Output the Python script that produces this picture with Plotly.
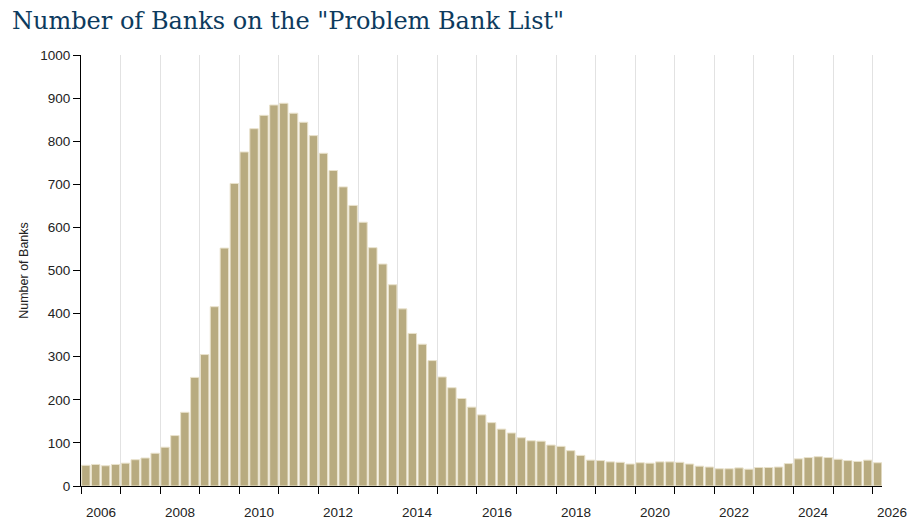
import pandas as pd
import plotly.graph_objects as go

# quarterly counts, 2006 Q1 .. 2026 Q1
quarters = pd.date_range("2006-01-01", "2026-01-01", freq="QS").strftime("%Y-%m-%d").tolist()
problem_banks = [
    48, 50, 47, 50,        # 2006
    53, 61, 65, 76,        # 2007
    90, 117, 171, 252,     # 2008
    305, 416, 552, 702,    # 2009
    775, 829, 860, 884,    # 2010
    888, 865, 844, 813,    # 2011
    772, 732, 694, 651,    # 2012
    612, 553, 515, 467,    # 2013
    411, 354, 329, 291,    # 2014
    253, 228, 203, 183,    # 2015
    165, 147, 132, 123,    # 2016
    112, 105, 104, 95,     # 2017
    92, 82, 71, 60,        # 2018
    59, 56, 55, 51,        # 2019
    54, 53, 56, 56,        # 2020
    55, 51, 46, 44,        # 2021
    40, 40, 42, 39,        # 2022
    43, 43, 44, 52,        # 2023
    63, 66, 68, 66,        # 2024
    62, 59, 57, 60,        # 2025
    54,                    # 2026
]

year_starts = [f"{y}-01-01" for y in range(2006, 2027)]
label_years = list(range(2006, 2027, 2))
label_text = [str(y) for y in label_years]

AXIS_FONT = {"family": "Liberation Sans, Arial, sans-serif", "size": 13.5, "color": "#222"}

fig = go.Figure(
    go.Bar(
        x=quarters,
        y=problem_banks,
        xperiod="M3",
        xperiodalignment="middle",
        marker={"color": "#b8ab80", "line": {"color": "#e9e2cc", "width": 1}},
        hovertemplate="%{x|%Y Q%q}: %{y}<extra></extra>",
    )
)

# year labels sit mid-year (half a year to the right of the tick); 2026 would be
# past the axis end, so they are anchored on the Jan 1 tick and shifted instead
HALF_YEAR_PX = 19.8
for year, text in zip(label_years, label_text):
    fig.add_annotation(
        x=f"{year}-01-01",
        y=0,
        xref="x",
        yref="paper",
        text=text,
        showarrow=False,
        yanchor="top",
        xshift=HALF_YEAR_PX,
        yshift=-17,
        font=AXIS_FONT,
    )

fig.update_layout(
    width=912,
    height=519,
    paper_bgcolor="white",
    plot_bgcolor="white",
    bargap=0.14,
    showlegend=False,
    margin={"l": 81, "r": 30, "t": 55, "b": 33},
    font=AXIS_FONT,
    title={
        "text": 'Number of Banks on the "Problem Bank List"',
        "x": 0.0132,
        "xanchor": "left",
        "y": 0.961,
        "yanchor": "middle",
        "font": {"family": "DejaVu Serif, serif", "size": 24, "color": "#0d3b5e"},
    },
    xaxis={
        "type": "date",
        "range": ["2006-01-01", "2026-03-28"],
        "automargin": False,
        "tickvals": year_starts,
        "showticklabels": False,
        "ticks": "outside",
        "ticklen": 7,
        "tickcolor": "black",
        "showgrid": True,
        "gridcolor": "#e2e2e2",
        "gridwidth": 1,
        "showline": True,
        "linecolor": "black",
        "linewidth": 1,
        "zeroline": False,
    },
    yaxis={
        "range": [0, 1000],
        "dtick": 100,
        "automargin": False,
        "ticks": "outside",
        "ticklen": 7,
        "tickcolor": "black",
        "showgrid": False,
        "showline": True,
        "linecolor": "black",
        "linewidth": 1,
        "zeroline": False,
        "tickfont": AXIS_FONT,
        "title": {"text": "Number of Banks", "font": {**AXIS_FONT, "size": 12.5}, "standoff": 8},
    },
)

# drop the default 8px body margin so the 912x519 figure fills the window exactly
fig.write_html(
    "out.html",
    config={"displayModeBar": False},
    post_script="document.body.style.margin = '0';",
)
